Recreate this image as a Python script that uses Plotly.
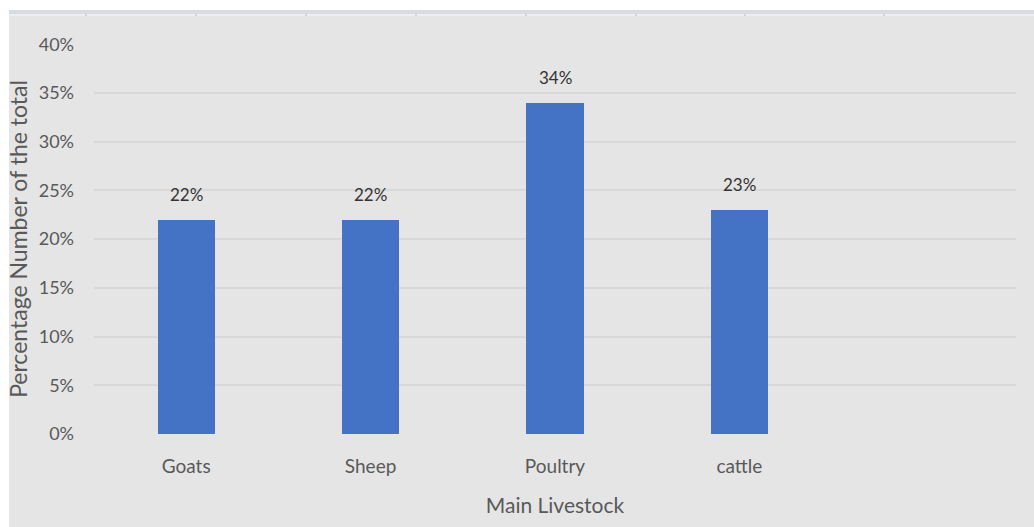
import plotly.graph_objects as go

# Share of respondents by main livestock type
categories = ["Goats", "Sheep", "Poultry", "cattle"]
shares = [0.22, 0.22, 0.34, 0.23]
y_ticks = [0, 0.05, 0.10, 0.15, 0.20, 0.25, 0.30, 0.35, 0.40]
y_tick_labels = ["0%", "5%", "10%", "15%", "20%", "25%", "30%", "35%", "40%"]

FONT = "Lato, Carlito, 'Open Sans', sans-serif"
BG = "#e5e5e5"
GRID = "#d8d8d8"
BAR = "#4472c4"

W, H = 1034, 527
ML, MR, MT, MB = 94, 18, 44, 93
pw, ph = W - ML - MR, H - MT - MB


def px_x(v):
    return (v - ML) / pw


def px_y(v):
    return (H - MB - v) / ph


x_pos = list(range(len(categories)))

fig = go.Figure()
fig.add_trace(go.Bar(
    x=x_pos,
    y=shares,
    width=0.31,
    marker=dict(color=BAR, line=dict(width=0)),
    hoverinfo="skip",
))

# value labels above each bar
for xi, v in zip(x_pos, shares):
    fig.add_annotation(
        x=xi, y=v, text=f"{round(v * 100)}%",
        showarrow=False, yanchor="bottom", yshift=13,
        font=dict(family=FONT, size=17, color="#333333"),
    )

shapes = [
    # white frame on the top and left edges
    dict(type="rect", xref="paper", yref="paper",
         x0=px_x(0), x1=px_x(W), y0=px_y(0), y1=px_y(10),
         fillcolor="white", line=dict(width=0), layer="below"),
    dict(type="rect", xref="paper", yref="paper",
         x0=px_x(0), x1=px_x(9), y0=px_y(0), y1=px_y(H),
         fillcolor="white", line=dict(width=0), layer="below"),
    # thin header band
    dict(type="rect", xref="paper", yref="paper",
         x0=px_x(9), x1=px_x(W), y0=px_y(10), y1=px_y(14),
         fillcolor="#d7dbe3", line=dict(width=0), layer="below"),
    dict(type="rect", xref="paper", yref="paper",
         x0=px_x(9), x1=px_x(W), y0=px_y(14), y1=px_y(16),
         fillcolor="#eeeeee", line=dict(width=0), layer="below"),
]
for gx in [86, 196, 306, 416, 526, 636, 745, 884]:
    shapes.append(dict(type="rect", xref="paper", yref="paper",
                       x0=px_x(gx - 1), x1=px_x(gx + 1), y0=px_y(14), y1=px_y(16),
                       fillcolor="#d3d3d3", line=dict(width=0), layer="below"))

fig.update_layout(
    width=W, height=H,
    margin=dict(l=ML, r=MR, t=MT, b=MB, pad=0),
    paper_bgcolor=BG,
    plot_bgcolor=BG,
    showlegend=False,
    bargap=0,
    shapes=shapes,
    font=dict(family=FONT, color="#595959"),
    xaxis=dict(
        range=[-0.5, 4.5],
        tickvals=x_pos,
        ticktext=categories,
        showgrid=False,
        zeroline=False,
        showline=False,
        ticks="",
        ticklabelstandoff=19,
        tickfont=dict(family=FONT, size=19, color="#595959"),
        title=dict(text="Main Livestock", standoff=22,
                   font=dict(family=FONT, size=21, color="#595959")),
        fixedrange=True,
    ),
    yaxis=dict(
        range=[0, 0.4003],
        tickvals=y_ticks,
        ticktext=y_tick_labels,
        showgrid=True,
        gridcolor=GRID,
        gridwidth=1.5,
        zeroline=False,
        showline=False,
        ticks="",
        ticklabelstandoff=19,
        tickfont=dict(family=FONT, size=18, color="#595959"),
        title=dict(text="Percentage Number of the total", standoff=4,
                   font=dict(family=FONT, size=23, color="#595959")),
        fixedrange=True,
    ),
)

fig.write_html("out.html")
